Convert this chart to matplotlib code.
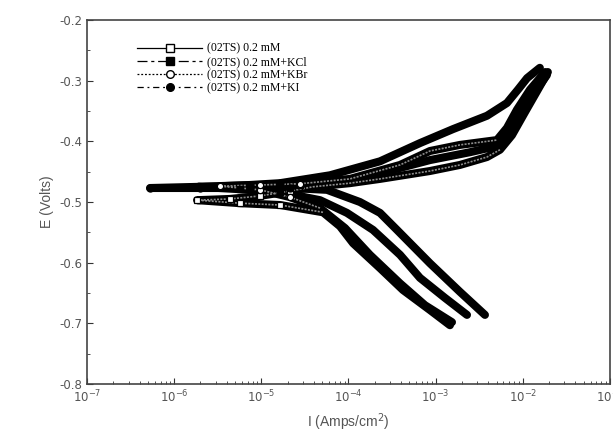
import numpy as np
import matplotlib.pyplot as plt
from matplotlib.lines import Line2D
from matplotlib.ticker import LogLocator, MultipleLocator, NullFormatter

# Tafel curves: current (A/cm2) and potential (V)
# each series runs from the cathodic end, through Ecorr, up the anodic branch
base_I = [1.46e-3, 8.61e-4, 4.22e-4, 2.30e-4, 1.13e-4, 7.98e-5, 5.10e-5, 1.64e-5, 5.69e-6,
          1.83e-6,
          4.37e-6, 9.66e-6, 2.13e-5, 3.91e-5, 1.04e-4, 2.30e-4, 8.61e-4, 1.90e-3, 3.88e-3,
          5.47e-3, 7.51e-3, 1.06e-2, 1.49e-2, 1.94e-2]
base_E = [-0.703, -0.678, -0.645, -0.609, -0.568, -0.540, -0.517, -0.505, -0.502,
          -0.497,
          -0.495, -0.490, -0.482, -0.475, -0.469, -0.462, -0.449, -0.439, -0.426,
          -0.414, -0.390, -0.352, -0.315, -0.286]

kcl_I = [2.29e-3, 1.28e-3, 6.61e-4, 3.90e-4, 1.91e-4, 9.61e-5, 4.71e-5, 1.64e-5, 5.69e-6,
         1.88e-6,
         7.41e-6, 2.78e-5, 1.04e-4, 3.90e-4, 8.61e-4, 2.48e-3, 5.05e-3, 7.12e-3, 1.06e-2,
         1.49e-2, 1.89e-2]
kcl_E = [-0.686, -0.658, -0.625, -0.587, -0.546, -0.518, -0.497, -0.484, -0.479,
         -0.475,
         -0.474, -0.472, -0.464, -0.444, -0.431, -0.418, -0.408, -0.381, -0.340,
         -0.312, -0.291]

kbr_I = [1.54e-3, 7.54e-4, 3.90e-4, 1.76e-4, 9.12e-5, 4.71e-5, 2.13e-5, 9.66e-6,
         3.36e-6,
         9.66e-6, 2.78e-5, 1.04e-4, 3.90e-4, 8.61e-4, 1.90e-3, 5.05e-3, 6.58e-3, 8.57e-3,
         1.21e-2, 1.80e-2]
kbr_E = [-0.698, -0.670, -0.634, -0.587, -0.543, -0.510, -0.492, -0.480,
         -0.474,
         -0.472, -0.470, -0.462, -0.439, -0.416, -0.406, -0.398, -0.378, -0.348,
         -0.315, -0.286]

ki_I = [3.68e-3, 1.90e-3, 8.61e-4, 3.60e-4, 2.30e-4, 1.35e-4, 5.66e-5, 2.13e-5, 7.41e-6,
        1.98e-6, 5.28e-7,
        1.98e-6, 7.41e-6, 1.64e-5, 6.13e-5, 2.30e-4, 6.61e-4, 1.58e-3, 3.88e-3, 6.58e-3,
        8.80e-3, 1.12e-2, 1.57e-2]
ki_E = [-0.686, -0.648, -0.601, -0.546, -0.518, -0.500, -0.480, -0.477, -0.477,
        -0.477, -0.477,
        -0.475, -0.472, -0.469, -0.456, -0.433, -0.403, -0.380, -0.358, -0.337,
        -0.315, -0.296, -0.279]

labels = ["(02TS) 0.2 mM", "(02TS) 0.2 mM+KCl", "(02TS) 0.2 mM+KBr", "(02TS) 0.2 mM+KI"]
markers = ["s", "s", "o", "o"]
filled = [False, True, False, True]
styles = ["-", (0, (8, 3, 2.5, 3)), (0, (1.5, 1.5)), (0, (5, 3, 1.5, 3))]

fig = plt.figure(figsize=(6.13, 4.41), dpi=100)
ax = fig.add_axes([0.142, 0.129, 0.853, 0.826])

series = [(base_I, base_E), (kcl_I, kcl_E), (kbr_I, kbr_E), (ki_I, ki_E)]
for (I, E), m, f in zip(series, markers, filled):
    I = np.array(I)
    E = np.array(E)
    ax.plot(I, E, color="black", lw=5.8, solid_capstyle="round", solid_joinstyle="round", zorder=2)
    # discrete markers only show near Ecorr, elsewhere they merge into a band
    near = I < 3e-5
    if not f:
        # open markers look hollow on the flat part, solid where the curve is steep
        flat = (E > -0.53) & (E < -0.395)
        ax.plot(I, np.where(flat, E, np.nan), color="#8c8c8c", lw=1.2,
                ls=(0, (1.2, 0.8)), zorder=3)
        ax.plot(I[near], E[near], ls="none", marker=m, ms=4.5, mfc="white", mec="black",
                mew=0.9, zorder=4)
    else:
        ax.plot(I[near], E[near], ls="none", marker=m, ms=5, color="black", zorder=4)

ax.set_xscale("log")
ax.set_xlim(1e-7, 1e-1)
ax.set_ylim(-0.8, -0.2)
ax.xaxis.set_major_locator(LogLocator(base=10, numticks=10))
ax.xaxis.set_minor_locator(LogLocator(base=10, subs=np.arange(2, 10), numticks=20))
ax.xaxis.set_minor_formatter(NullFormatter())
ax.yaxis.set_major_locator(MultipleLocator(0.1))
ax.yaxis.set_minor_locator(MultipleLocator(0.05))
ax.yaxis.set_major_formatter(plt.FuncFormatter(lambda v, p: f"{v:.1f}"))

grey = "#555555"
ax.tick_params(which="both", direction="in", color="#333333", labelcolor=grey, labelsize=8.5)
ax.tick_params(which="major", length=4)
ax.tick_params(which="minor", length=2.5)
for s in ax.spines.values():
    s.set_color("#444444")
    s.set_linewidth(1.2)

ax.set_xlabel("I (Amps/cm$^2$)", color=grey, fontsize=10, family="Liberation Sans")
ax.set_ylabel("E (Volts)", color=grey, fontsize=10, family="Liberation Sans")

handles = []
for lab, m, f, ls in zip(labels, markers, filled, styles):
    handles.append(Line2D([], [], color="black", lw=0.9, ls=ls, marker=m, ms=5.5,
                          mfc="black" if f else "white", mec="black", label=lab))
ax.legend(handles=handles, loc="upper left", bbox_to_anchor=(0.08, 0.96), frameon=False,
          prop={"family": "Liberation Serif", "size": 8.5}, handlelength=5.5,
          handletextpad=0.4, labelspacing=0.1, borderpad=0.2)

fig.savefig("out.png", dpi=100)
